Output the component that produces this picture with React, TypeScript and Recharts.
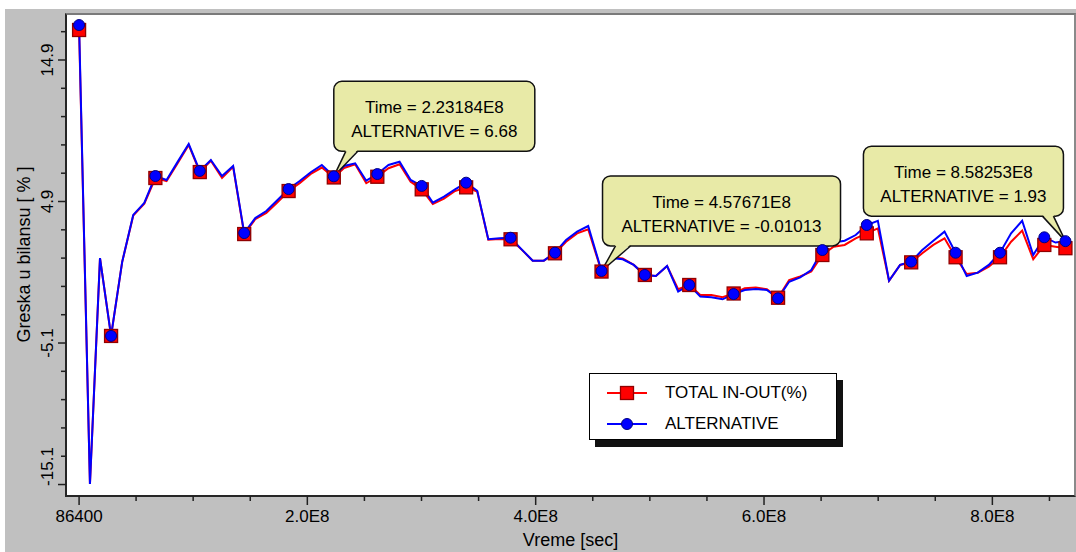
import { LineChart, Line, XAxis, YAxis, Legend, ReferenceDot } from "recharts";

const FONT = "'Liberation Sans', Arial, Helvetica, sans-serif";

// time of each sample [sec]
const timeSec = [
  86400, 9.6e6, 18.4e6, 28.1e6, 37.8e6, 47.5e6, 57.2e6, 66.9e6, 76.7e6, 86.4e6,
  96.1e6, 105.8e6, 115.5e6, 125.3e6, 135.0e6, 144.7e6, 154.4e6, 164.1e6, 173.9e6, 183.6e6,
  193.3e6, 203.0e6, 212.7e6, 223.184e6, 232.2e6, 241.9e6, 251.6e6, 261.3e6, 271.1e6, 280.8e6,
  290.5e6, 300.2e6, 309.9e6, 319.7e6, 329.4e6, 339.1e6, 348.8e6, 358.5e6, 368.3e6, 378.0e6,
  387.7e6, 397.4e6, 407.1e6, 416.9e6, 426.6e6, 436.3e6, 446.0e6, 457.671e6, 466.5e6, 476.2e6,
  485.9e6, 495.6e6, 505.3e6, 515.1e6, 524.8e6, 534.5e6, 544.2e6, 553.9e6, 563.7e6, 573.4e6,
  583.1e6, 592.8e6, 602.5e6, 612.3e6, 622.0e6, 631.7e6, 641.4e6, 651.1e6, 660.9e6, 670.6e6,
  680.3e6, 690.0e6, 699.7e6, 709.5e6, 719.2e6, 728.9e6, 738.6e6, 748.3e6, 758.1e6, 767.8e6,
  777.5e6, 787.2e6, 796.9e6, 806.7e6, 816.4e6, 826.1e6, 835.8e6, 845.5e6, 855.3e6, 864.0e6,
];

// TOTAL IN-OUT(%)
const totalInOut = [
  17.02, -15.06, 0.9, -4.6, 0.62, 3.9, 4.75, 6.56, 6.35, 7.6,
  8.9, 6.98, 7.78, 6.56, 7.35, 2.6, 3.65, 4.1, 4.85, 5.64,
  6.2, 6.85, 7.3, 6.6, 7.27, 7.53, 6.19, 6.65, 7.25, 7.53,
  6.3, 5.76, 4.72, 5.1, 5.64, 5.9, 5.6, 2.2, 2.25, 2.23,
  1.5, 0.72, 0.72, 1.24, 2.06, 2.65, 2.94, -0.05, 0.96, 0.88,
  0.42, -0.29, -0.37, 0.34, -1.3, -1.0, -1.7, -1.7, -1.87, -1.6,
  -1.23, -1.18, -1.3, -1.9, -0.65, -0.4, -0.05, 1.12, 1.71, 1.83,
  2.3, 2.65, 3.0, -0.7, 0.42, 0.6, 1.24, 1.83, 2.3, 0.96,
  -0.22, -0.13, 0.3, 0.96, 2.06, 2.84, 0.82, 1.83, 1.7, 1.6,
];

// ALTERNATIVE
const alternative = [
  17.37, -15.06, 0.9, -4.6, 0.62, 3.95, 4.8, 6.7, 6.42, 7.7,
  8.96, 7.06, 7.83, 6.7, 7.41, 2.67, 3.73, 4.23, 5.0, 5.78,
  6.35, 6.97, 7.48, 6.68, 7.41, 7.6, 6.37, 6.84, 7.48, 7.71,
  6.42, 6.0, 4.82, 5.24, 5.76, 6.23, 5.66, 2.23, 2.3, 2.34,
  1.52, 0.72, 0.72, 1.28, 2.18, 2.77, 3.17, -0.01, 0.9, 0.82,
  0.42, -0.29, -0.37, 0.34, -1.47, -1.0, -1.82, -1.87, -2.01, -1.64,
  -1.35, -1.28, -1.35, -1.94, -0.77, -0.46, 0.06, 1.47, 2.0, 2.13,
  2.53, 3.24, 3.54, -0.7, 0.42, 0.65, 1.47, 2.13, 2.77, 1.28,
  -0.37, -0.13, 0.42, 1.28, 2.65, 3.54, 1.12, 2.37, 2.0, 2.1,
];

// samples that carry a marker
const markerIndex = [0, 3, 7, 11, 15, 19, 23, 27, 31, 35, 39, 43, 47, 51, 55, 59, 63, 67, 71, 75, 79, 83, 87, 89];

const seriesNames = ["TOTAL IN-OUT(%)", "ALTERNATIVE"];

const xTicks = [86400, 0.5e8, 1e8, 1.5e8, 2e8, 2.5e8, 3e8, 3.5e8, 4e8, 4.5e8, 5e8, 5.5e8, 6e8, 6.5e8, 7e8, 7.5e8, 8e8, 8.5e8];
const xTickLabels: Record<string, string> = {
  "86400": "86400",
  "200000000": "2.0E8",
  "400000000": "4.0E8",
  "600000000": "6.0E8",
  "800000000": "8.0E8",
};

const yTicks = [-15.1, -13.1, -11.1, -9.1, -7.1, -5.1, -3.1, -1.1, 0.9, 2.9, 4.9, 6.9, 8.9, 10.9, 12.9, 14.9, 16.9];
const yTickLabels: Record<string, string> = {
  "-15.1": "-15.1",
  "-5.1": "-5.1",
  "4.9": "4.9",
  "14.9": "14.9",
};

// hover-style callouts: sample index + the texts shown
const callouts = [
  { index: 23, time: "2.23184E8", value: "6.68" },
  { index: 47, time: "4.57671E8", value: "-0.01013" },
  { index: 89, time: "8.58253E8", value: "1.93" },
];
// where each callout box sits relative to its point
const calloutBoxes = [
  { dx: 0, w: 201, t0: 12, t1: 24 },
  { dx: 1, w: 238, t0: 14, t1: 29 },
  { dx: -202, w: 200, t0: -23, t1: -12 },
];

const data = timeSec.map((t, i) => ({ t, total: totalInOut[i], alt: alternative[i] }));

const XTick = ({ x, y, payload }: any) => {
  const label = xTickLabels[String(payload.value)];
  return (
    <g>
      <line x1={x} x2={x} y1={y + 1} y2={y + (label ? 10 : 6)} stroke="#202020" strokeWidth={1.5} />
      {label && (
        <text x={x} y={y + 27} textAnchor="middle" fontSize={17} fontFamily={FONT} fill="#000">
          {label}
        </text>
      )}
    </g>
  );
};

const YTick = ({ x, y, payload }: any) => {
  const label = yTickLabels[String(payload.value)];
  const shift = payload.value < -10 ? -18 : 0;
  return (
    <g>
      <line x1={x - 1} x2={x - (label ? 9 : 6)} y1={y} y2={y} stroke="#202020" strokeWidth={1.5} />
      {label && (
        <text
          transform={`translate(${x - 14},${y + shift}) rotate(-90)`}
          textAnchor="middle"
          fontSize={17}
          fontFamily={FONT}
          fill="#000"
        >
          {label}
        </text>
      )}
    </g>
  );
};

const squareDot = (props: any) => {
  const { cx, cy, index } = props;
  if (!markerIndex.includes(index)) return <g key={`s${index}`} />;
  return (
    <rect key={`s${index}`} x={cx - 6.5} y={cy - 6.5} width={13} height={13} fill="#ff0000" stroke="#900000" strokeWidth={1.3} />
  );
};

const circleDot = (props: any) => {
  const { cx, cy, index } = props;
  if (!markerIndex.includes(index)) return <g key={`c${index}`} />;
  return <circle key={`c${index}`} cx={cx} cy={cy} r={5.5} fill="#0000ff" stroke="#000080" strokeWidth={1} />;
};

const makeCallout = (i: number) => (props: any) => {
  const { cx, cy } = props;
  const c = callouts[i];
  const b = calloutBoxes[i];
  const left = cx + b.dx;
  const top = cy - 95;
  const h = 70;
  const bottom = top + h;
  return (
    <g>
      <rect x={left} y={top} width={b.w} height={h} rx={8} ry={8} fill="#e8eaa7" stroke="#111" strokeWidth={1.5} />
      <polygon points={`${cx + b.t0},${bottom - 1.5} ${cx + b.t1},${bottom - 1.5} ${cx},${cy}`} fill="#e8eaa7" />
      <line x1={cx + b.t0} y1={bottom} x2={cx} y2={cy} stroke="#111" strokeWidth={1.5} />
      <line x1={cx + b.t1} y1={bottom} x2={cx} y2={cy} stroke="#111" strokeWidth={1.5} />
      <text x={left + b.w / 2} y={top + 32} textAnchor="middle" fontSize={17} fontFamily={FONT} fill="#000">
        {`Time = ${c.time}`}
      </text>
      <text x={left + b.w / 2} y={top + 56} textAnchor="middle" fontSize={17} fontFamily={FONT} fill="#000">
        {`ALTERNATIVE = ${c.value}`}
      </text>
    </g>
  );
};

const LegendBox = () => (
  <div style={{ position: "relative", width: 248, height: 67, fontFamily: FONT, fontSize: 17 }}>
    <div style={{ position: "absolute", left: 6, top: 7, width: 248, height: 67, background: "#111" }} />
    <div
      style={{
        position: "absolute",
        left: 0,
        top: 0,
        width: 248,
        height: 67,
        background: "#fff",
        border: "1.5px solid #000",
        boxSizing: "border-box",
      }}
    >
      {seriesNames.map((name, i) => (
        <div key={name} style={{ position: "absolute", left: 0, top: i === 0 ? 9 : 40, height: 20, width: 246 }}>
          <svg width={60} height={20} style={{ position: "absolute", left: 0, top: 0 }}>
            <line x1={17} x2={57} y1={10} y2={10} stroke={i === 0 ? "#ff0000" : "#0000ff"} strokeWidth={2} />
            {i === 0 ? (
              <rect x={30.5} y={3.5} width={13} height={13} fill="#ff0000" stroke="#900000" strokeWidth={1.3} />
            ) : (
              <circle cx={37} cy={10} r={5.5} fill="#0000ff" stroke="#000080" strokeWidth={1} />
            )}
          </svg>
          <span style={{ position: "absolute", left: 75, top: 0, lineHeight: "20px", color: "#000", whiteSpace: "nowrap" }}>
            {name}
          </span>
        </div>
      ))}
    </div>
  </div>
);

export default function App() {
  return (
    <div style={{ position: "absolute", left: 0, top: 0, width: 1076, height: 552, background: "#fff", overflow: "hidden" }}>
      <div style={{ position: "absolute", left: 5, top: 9, width: 1071, height: 543, background: "#c0c0c0" }} />
      <div
        style={{
          position: "absolute",
          left: 65,
          top: 13,
          width: 1011,
          height: 484,
          boxSizing: "border-box",
          background: "#fff",
          borderTop: "2px solid #7a7a7a",
          borderLeft: "2px solid #262626",
          borderBottom: "2px solid #262626",
          borderRight: "2px solid #8a8a8a",
        }}
      />
      <div style={{ position: "absolute", left: 0, top: 0 }}>
        <LineChart width={1076} height={552} data={data} margin={{ top: 14, right: 2, bottom: 0, left: 0 }}>
          <XAxis
            dataKey="t"
            type="number"
            domain={[-1.05e7, 8.715e8]}
            allowDataOverflow
            ticks={xTicks}
            interval={0}
            height={57}
            axisLine={false}
            tickLine={false}
            tickSize={0}
            tickMargin={0}
            tick={<XTick />}
            label={{ value: "Vreme [sec]", position: "insideBottom", offset: 6, fontSize: 18, fontFamily: FONT, fill: "#000" }}
          />
          <YAxis
            type="number"
            domain={[-15.84, 18.15]}
            allowDataOverflow
            ticks={yTicks}
            interval={0}
            width={67}
            axisLine={false}
            tickLine={false}
            tickSize={0}
            tickMargin={0}
            tick={<YTick />}
            label={{
              content: (p: any) => {
                const vb = p && p.viewBox ? p.viewBox : { y: 14, height: 481 };
                return (
                  <text
                    transform={`translate(30,${vb.y + vb.height / 2}) rotate(-90)`}
                    textAnchor="middle"
                    fontSize={18}
                    fontFamily={FONT}
                    fill="#000"
                  >
                    Greska u bilansu [ % ]
                  </text>
                );
              },
            }}
          />
          <Line
            type="linear"
            dataKey="total"
            name={seriesNames[0]}
            stroke="#ff0000"
            strokeWidth={2}
            dot={squareDot}
            activeDot={false}
            isAnimationActive={false}
          />
          <Line
            type="linear"
            dataKey="alt"
            name={seriesNames[1]}
            stroke="#0000ff"
            strokeWidth={2}
            dot={circleDot}
            activeDot={false}
            isAnimationActive={false}
          />
          {callouts.map((c, i) => (
            <ReferenceDot
              key={c.time}
              x={timeSec[c.index]}
              y={alternative[c.index]}
              r={0}
              shape={makeCallout(i)}
            />
          ))}
          <Legend
            layout="vertical"
            align="center"
            verticalAlign="middle"
            content={() => <LegendBox />}
            wrapperStyle={{ left: 589, top: 373, width: 248, height: 67 }}
          />
        </LineChart>
      </div>
    </div>
  );
}
